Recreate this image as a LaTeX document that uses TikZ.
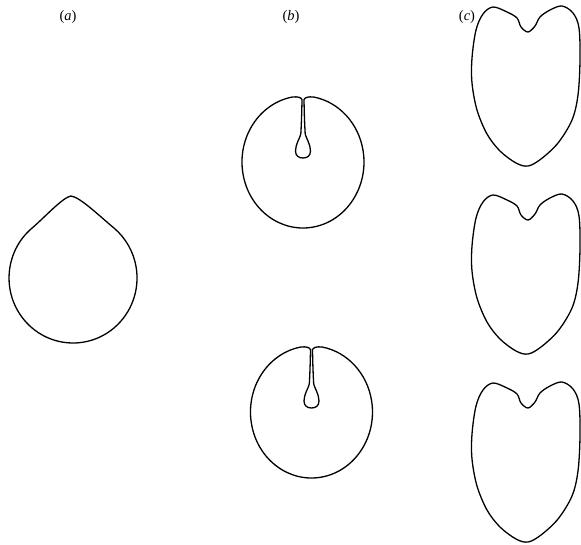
\documentclass[tikz,border=0pt]{standalone}
\usepackage{fontspec}
\setmainfont{Liberation Serif}
\begin{document}
\begin{tikzpicture}[x=1pt,y=-1pt,
  outline/.style={line width=1.3pt, line join=round, black},
  lab/.style={font=\fontsize{14.5}{17}\selectfont, inner sep=0pt},
  pics/bseed/.style={code={
    \draw[outline] (-10.6,-65) arc[start angle=-100, end angle=-440, x radius=61, y radius=66]
      .. controls (5,-65.6) and (2,-64.5) .. (1,-62.5)
      .. controls (1.2,-50) and (1.6,-38) .. (2.2,-28)
      .. controls (3,-24) and (7.5,-18) .. (7.5,-11)
      .. controls (7.5,-6) and (4,-4) .. (0,-4)
      .. controls (-4,-4) and (-7.5,-6) .. (-7.5,-11)
      .. controls (-7.5,-18) and (-3,-24) .. (-2.2,-28)
      .. controls (-1.6,-38) and (-1.2,-50) .. (-1,-62.5)
      .. controls (-2,-64.5) and (-5,-65.6) .. (-10.6,-65) -- cycle;
  }},
  pics/cseed/.style={code={
    \draw[outline] plot[smooth cycle, tension=0.55] coordinates {
      (528,32) (535,26) (540,17) (550,10) (562,6) (573,13) (579,28) (580,60)
      (578,95) (572,120) (558,143) (541,159) (528,166) (516,163) (500,151)
      (487,134) (477,110) (472,83) (472,58) (476,30) (483,14) (493,7)
      (507,12) (517,18) (521,27)};
  }}]
\useasboundingbox (0,0) rectangle (581,544);
% labels
\node[lab] (la) at (68,17) {(\textit{a})};
\node[lab] (lb) at (291,17) {(\textit{b})};
\node[lab] (lc) at (467,17) {(\textit{c})};
% (a)
\draw[outline] (31.9,228.2) arc[start angle=230, end angle=-50, x radius=64, y radius=65]
  .. controls (100,216.5) and (80,197) .. (71,196)
  .. controls (63,197) and (44,218) .. (31.9,228.2) -- cycle;
% (b)
\pic (b1) at (303,162) {bseed};
\pic (b2) at (311.5,412) {bseed};
% (c)
\pic (c1) at (0,0) {cseed};
\pic (c2) at (0,188) {cseed};
\pic (c3) at (0,376) {cseed};
\end{tikzpicture}
\end{document}
